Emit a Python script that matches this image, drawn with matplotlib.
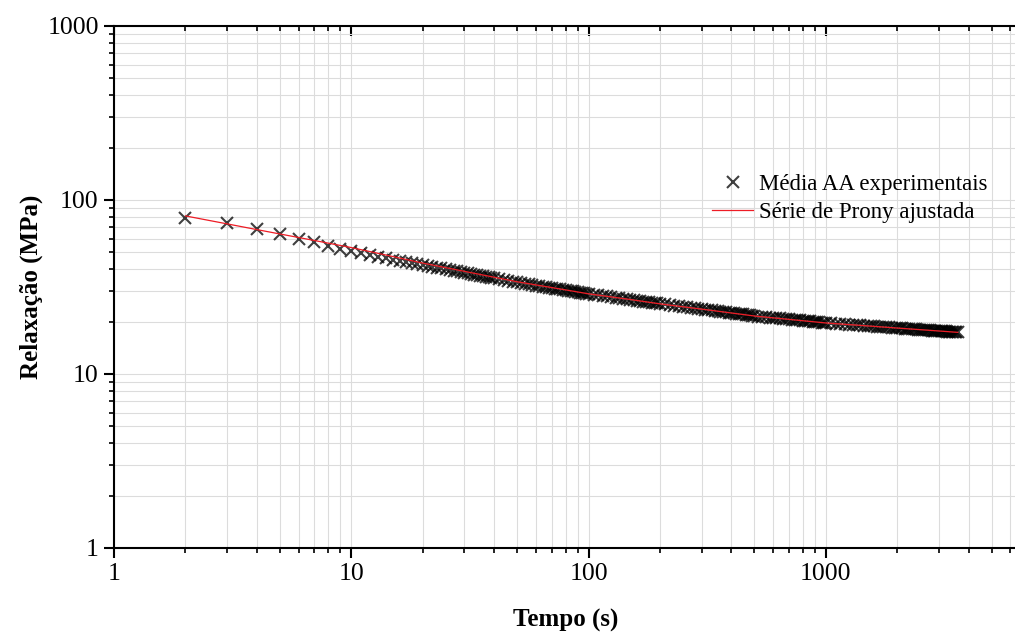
import numpy as np
import matplotlib
matplotlib.use("Agg")
import matplotlib.pyplot as plt
from matplotlib.ticker import LogLocator, FuncFormatter, NullFormatter

plt.rcParams["font.family"] = ["Liberation Serif", "DejaVu Serif"]

# experimental relaxation curve (mean of AA specimens), time in s, modulus in MPa
t_exp = np.concatenate([
    np.arange(2, 41, 1),
    np.arange(42, 101, 2),
    np.arange(105, 201, 5),
    np.arange(210, 501, 10),
    np.arange(520, 1001, 20),
    np.arange(1050, 3601, 50),
])
e_exp = [
    79.0, 74.0, 68.5, 63.5, 60.0, 57.0, 54.5, 52.4, 50.6,
    49.4, 48.3, 47.3, 46.4, 45.5, 44.8, 44.1, 43.4, 42.8, 42.3,
    41.8, 41.3, 40.8, 40.4, 40.0, 39.6, 39.2, 38.9, 38.5, 38.2,
    37.9, 37.6, 37.3, 37.0, 36.8, 36.5, 36.3, 36.0, 35.8, 35.6,
    # 42..100
    35.2, 34.8, 34.4, 34.0, 33.7, 33.3, 33.0, 32.7, 32.4, 32.2, 31.9,
    31.7, 31.5, 31.3, 31.1, 30.9, 30.7, 30.6, 30.4, 30.2, 30.1,
    29.9, 29.8, 29.6, 29.5, 29.4, 29.2, 29.1, 29.0, 28.9,
    # 105..200
    28.6, 28.4, 28.1, 27.9, 27.7, 27.5, 27.3, 27.1, 26.9, 26.8,
    26.6, 26.4, 26.3, 26.1, 26.0, 25.8, 25.7, 25.6, 25.5, 25.3,
    # 210..500
    25.1, 24.9, 24.7, 24.5, 24.3, 24.2, 24.0, 23.9, 23.7, 23.6,
    23.4, 23.3, 23.2, 23.1, 22.9, 22.8, 22.7, 22.6, 22.5, 22.4,
    22.3, 22.2, 22.1, 22.0, 22.0, 21.9, 21.8, 21.7, 21.6, 21.6,
    # 520..1000
    21.4, 21.3, 21.2, 21.1, 21.0, 20.9, 20.85, 20.8, 20.7, 20.6,
    20.5, 20.46, 20.4, 20.3, 20.24, 20.18, 20.1, 20.05, 19.99, 19.93,
    19.87, 19.81, 19.76, 19.7, 19.65,
    # 1050..3600
    19.56, 19.47, 19.39, 19.31, 19.23, 19.16, 19.09, 19.02, 18.95, 18.89,
    18.83, 18.77, 18.72, 18.66, 18.61, 18.56, 18.51, 18.46, 18.42, 18.37,
    18.33, 18.29, 18.24, 18.20, 18.16, 18.12, 18.09, 18.05, 18.01, 17.98,
    17.94, 17.91, 17.88, 17.85, 17.81, 17.78, 17.75, 17.72, 17.69, 17.67,
    17.64, 17.61, 17.58, 17.55, 17.53, 17.50, 17.47, 17.45, 17.43, 17.40,
    17.38, 17.35,
]

# fitted Prony series evaluated at a few times
t_fit = [2, 3, 4, 5, 7, 10, 15, 20, 30, 50, 70, 100, 150, 200, 300,
         500, 700, 1000, 1500, 2000, 3000, 3600]
e_fit = [81.0, 72.9, 67.6, 63.8, 58.5, 53.3, 47.3, 43.4, 38.9, 33.9, 31.4,
         28.9, 26.8, 25.3, 23.6, 21.55, 20.6, 19.65, 18.9, 18.37, 17.67, 17.35]

fig = plt.figure(figsize=(10.15, 6.4), dpi=100)
ax = fig.add_axes([114 / 1015, 92 / 640, 949 / 1015, 522 / 640])

# semi-transparent black crosses: single points read grey, overlaps go black
ax.plot(t_exp, e_exp, linestyle="none", marker="x", markersize=8,
        markeredgewidth=1.5, color="black", alpha=0.75,
        label="Média AA experimentais", zorder=3)
ax.plot(t_fit, e_fit, color="#ee1c25", linewidth=0.9,
        label="Série de Prony ajustada", zorder=4)

ax.set_xscale("log")
ax.set_yscale("log")
ax.set_xlim(1, 10000)
ax.set_ylim(1, 1000)

fmt = FuncFormatter(lambda v, p: f"{v:g}" if v < 5000 else "")
for axis in (ax.xaxis, ax.yaxis):
    axis.set_major_locator(LogLocator(base=10, numticks=10))
    axis.set_minor_locator(LogLocator(base=10, subs=np.arange(2, 10), numticks=20))
    axis.set_major_formatter(fmt)
    axis.set_minor_formatter(NullFormatter())

ax.grid(True, which="both", color="#dcdcdc", linewidth=0.8)
ax.set_axisbelow(True)

for side in ("left", "bottom", "top", "right"):
    ax.spines[side].set_linewidth(1.5)

ax.tick_params(which="major", direction="out", length=7, width=1.5,
               labelsize=18.5, pad=4)
ax.tick_params(which="minor", direction="out", length=3.5, width=1.2)
ax.tick_params(axis="x", which="both", top=True)
# ticks mirrored on the top axis point inward
for tick in ax.xaxis.get_major_ticks() + ax.xaxis.get_minor_ticks():
    tick.tick2line.set_marker(3)

ax.set_xlabel("Tempo (s)", fontsize=18, fontweight="bold")
ax.set_ylabel("Relaxação (MPa)", fontsize=18, fontweight="bold")
ax.xaxis.set_label_coords((566 - 114) / 949, -(609 - 548) / 522)
ax.yaxis.set_label_coords(-(114 - 43) / 949, 0.5)

ax.legend(loc="upper left", bbox_to_anchor=(712 / 1015, (640 - 174) / 640),
          bbox_transform=fig.transFigure, frameon=False, fontsize=16.5,
          borderpad=0, borderaxespad=0, labelspacing=0.3,
          handlelength=1.8, handletextpad=0.25)

fig.savefig("out.png", dpi=100)
